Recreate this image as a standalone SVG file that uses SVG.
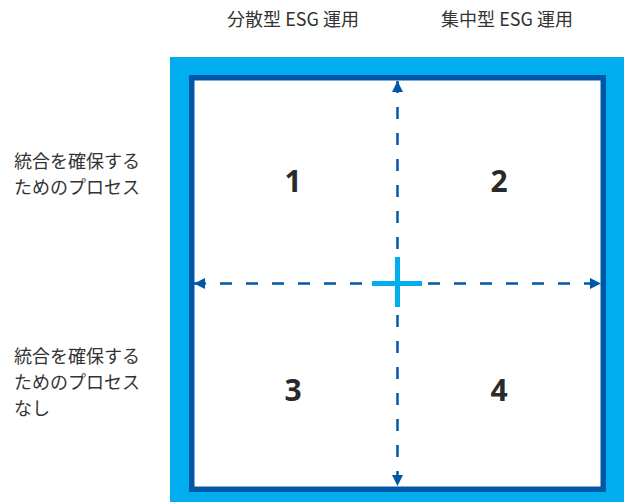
<svg xmlns="http://www.w3.org/2000/svg" width="628" height="502" viewBox="0 0 628 502">
<style>
.lbl{font-family:"Noto Sans CJK JP","Noto Sans",sans-serif;font-size:18px;fill:#333333}
.num{font-family:"Noto Sans","Open Sans",sans-serif;font-size:30px;font-weight:bold;fill:#2a2a2a;text-anchor:middle}
.axis{stroke:#0057A8;stroke-width:2.5;stroke-dasharray:12 14;fill:none}
</style>
<defs>
<marker id="ah" viewBox="0 0 10 10" refX="10" refY="5" markerWidth="4.4" markerHeight="4.4" orient="auto-start-reverse" markerUnits="strokeWidth">
<path d="M0,0 L10,5 L0,10 z" fill="#0057A8"/>
</marker>
</defs>
<g id="frame">
<rect x="170" y="57" width="454" height="445" fill="#00AEEF"/>
<rect x="191.75" y="77.75" width="411.5" height="411.5" fill="#FFFFFF" stroke="#0057A8" stroke-width="5.5"/>
</g>
<g id="connectors">
<line class="axis" x1="397.5" y1="81" x2="397.5" y2="486" marker-start="url(#ah)" marker-end="url(#ah)"/>
<line class="axis" x1="194" y1="283.5" x2="601" y2="283.5" marker-start="url(#ah)" marker-end="url(#ah)"/>
</g>
<g id="cross">
<line x1="372" y1="283.5" x2="422" y2="283.5" stroke="#00AEEF" stroke-width="5"/>
<line x1="397.5" y1="257" x2="397.5" y2="307" stroke="#00AEEF" stroke-width="5"/>
</g>
<g id="q1"><text class="num" x="293" y="192">1</text></g>
<g id="q2"><text class="num" x="499" y="192">2</text></g>
<g id="q3"><text class="num" x="293" y="401">3</text></g>
<g id="q4"><text class="num" x="499" y="401">4</text></g>
<g id="col1"><text class="lbl" x="293" y="26" text-anchor="middle">分散型 ESG 運用</text></g>
<g id="col2"><text class="lbl" x="507" y="26" text-anchor="middle">集中型 ESG 運用</text></g>
<g id="row1"><text class="lbl" x="14" y="168">統合を確保する</text><text class="lbl" x="14" y="194">ためのプロセス</text></g>
<g id="row2"><text class="lbl" x="14" y="363">統合を確保する</text><text class="lbl" x="14" y="389">ためのプロセス</text><text class="lbl" x="14" y="415">なし</text></g>
</svg>
